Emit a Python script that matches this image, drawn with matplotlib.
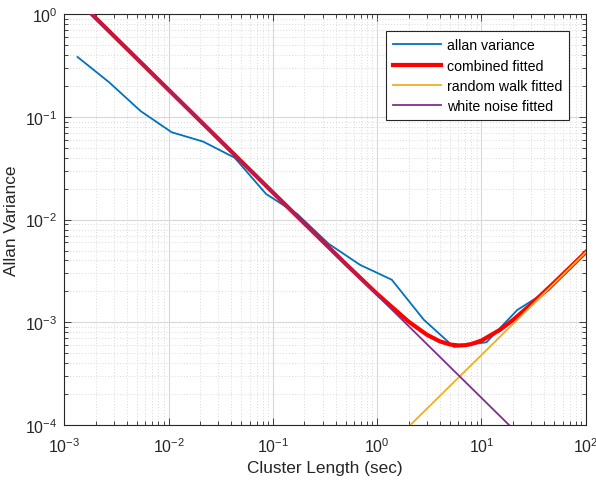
import matplotlib
matplotlib.use("Agg")
import matplotlib.pyplot as plt
from matplotlib.ticker import LogLocator, FuncFormatter, NullFormatter
import numpy as np

plt.rcParams['font.family'] = ['Liberation Sans', 'DejaVu Sans']
plt.rcParams['mathtext.fontset'] = 'custom'
plt.rcParams['mathtext.rm'] = 'Liberation Sans'
plt.rcParams['mathtext.it'] = 'Liberation Sans'
plt.rcParams['mathtext.default'] = 'regular'

# Allan variance (measured)
av_tau = [0.00134, 0.0027, 0.0054, 0.0107, 0.0215, 0.043, 0.086, 0.172, 0.344,
          0.688, 1.38, 2.8, 5.45, 11.2, 22.1, 44, 88]
av_val = [0.384, 0.217, 0.114, 0.071, 0.0575, 0.0401, 0.0178, 0.0113, 0.0058,
          0.00362, 0.0026, 0.00106, 0.000575, 0.00064, 0.00132, 0.00205, 0.0042]

# combined fitted curve
comb_tau = [0.0014, 0.01, 0.1, 0.5, 1, 2, 3, 4, 5, 6, 7, 8, 10, 15, 20, 30, 50, 70, 100]
comb_val = [1.314, 0.184, 0.0184, 0.0037, 0.00189, 0.001016, 0.000757, 0.000652,
            0.000608, 0.000595, 0.000599, 0.000614, 0.000664, 0.000843, 0.00105,
            0.0015, 0.00244, 0.00339, 0.00482]

# random walk fitted (straight line end points)
rw_tau = [0.0014, 100]
rw_val = [6.72e-8, 0.0048]

# white noise fitted (straight line end points)
wn_tau = [0.0014, 100]
wn_val = [1.314, 1.84e-5]

fig = plt.figure(figsize=(5.96, 4.81), dpi=100)
ax = fig.add_axes([0.1079, 0.1144, 0.8748, 0.8538])

ax.plot(av_tau, av_val, color='#0072BD', lw=1.3, label='allan variance', zorder=3)
ax.plot(comb_tau, comb_val, color='#FF0000', lw=3.0, label='combined fitted', zorder=4)
ax.plot(rw_tau, rw_val, color='#EDB120', lw=1.3, label='random walk fitted', zorder=5)
ax.plot(wn_tau, wn_val, color='#7E2F8E', lw=1.3, label='white noise fitted', zorder=5)

ax.set_xscale('log')
ax.set_yscale('log')
ax.set_xlim(1e-3, 1e2)
ax.set_ylim(1e-4, 1e0)

fmt = FuncFormatter(lambda v, p: r'$10^{%d}$' % int(round(np.log10(v))))
ax.xaxis.set_major_locator(LogLocator(base=10, numticks=10))
ax.yaxis.set_major_locator(LogLocator(base=10, numticks=10))
ax.xaxis.set_major_formatter(fmt)
ax.yaxis.set_major_formatter(fmt)
ax.xaxis.set_minor_locator(LogLocator(base=10, subs=np.arange(2, 10), numticks=20))
ax.yaxis.set_minor_locator(LogLocator(base=10, subs=np.arange(2, 10), numticks=20))
ax.xaxis.set_minor_formatter(NullFormatter())
ax.yaxis.set_minor_formatter(NullFormatter())

ax.tick_params(which='both', direction='in', top=True, right=True, labelsize=11.5,
               colors='#262626', width=0.6)
ax.tick_params(which='major', length=5)
ax.tick_params(which='minor', length=3)
ax.tick_params(axis='x', which='major', pad=8)
ax.tick_params(axis='y', which='major', pad=5)

ax.grid(which='major', color='#d9d9d9', lw=0.8, ls='-')
ax.grid(which='minor', color='#d9d9d9', lw=0.7, ls=(0, (1, 2)))
ax.set_axisbelow(True)
for s in ax.spines.values():
    s.set_color('#262626')
    s.set_linewidth(0.8)

ax.set_xlabel('Cluster Length (sec)', fontsize=12.4, color='#262626', labelpad=4)
ax.set_ylabel('Allan Variance', fontsize=12.4, color='#262626', labelpad=4)

leg = ax.legend(loc='upper right', bbox_to_anchor=(0.968, 0.959), borderaxespad=0,
                fontsize=10.2, fancybox=False, framealpha=1, edgecolor='#262626',
                handlelength=3.4, handletextpad=0.4, labelspacing=0.45, borderpad=0.5)
leg.get_frame().set_linewidth(0.8)

fig.savefig('out.png', dpi=100)
